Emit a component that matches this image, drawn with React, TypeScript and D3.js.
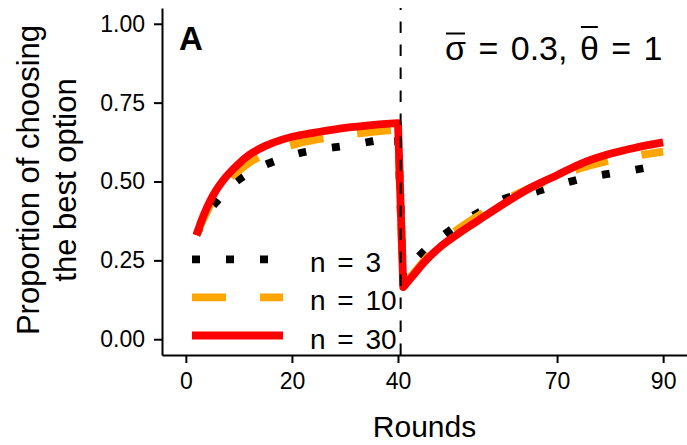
import React, { useEffect, useRef } from 'react';
import * as d3 from 'd3';

const rounds = [2, 3, 4, 5, 6, 7, 8, 10, 12, 15, 18, 21, 25, 30, 35, 40, 41, 43, 45, 48, 51, 55, 60, 65, 70, 75, 80, 85, 90];
// proportion of choosing the best option, per group size
const propN3 = [0.33, 0.365, 0.395, 0.42, 0.44, 0.46, 0.478, 0.506, 0.528, 0.553, 0.572, 0.588, 0.601, 0.613, 0.627, 0.643, 0.19, 0.245, 0.28, 0.322, 0.36, 0.40, 0.445, 0.463, 0.488, 0.51, 0.525, 0.538, 0.555];
const propN10 = [0.33, 0.37, 0.405, 0.44, 0.465, 0.487, 0.505, 0.535, 0.56, 0.588, 0.606, 0.62, 0.634, 0.647, 0.657, 0.665, 0.17, 0.21, 0.25, 0.305, 0.345, 0.39, 0.44, 0.48, 0.515, 0.545, 0.567, 0.582, 0.595];
const propN30 = [0.33, 0.378, 0.418, 0.452, 0.48, 0.503, 0.523, 0.557, 0.585, 0.613, 0.632, 0.645, 0.657, 0.67, 0.679, 0.685, 0.165, 0.205, 0.245, 0.293, 0.33, 0.375, 0.43, 0.48, 0.52, 0.56, 0.588, 0.608, 0.624];
const seriesLabels = ['n = 3', 'n = 10', 'n = 30'];
const xTicks = [0, 20, 40, 70, 90];
const yTicks = [0, 0.25, 0.5, 0.75, 1];
const switchRound = 40.5;

const FONT = 'Liberation Sans, Arial, Helvetica, sans-serif';

export default function App() {
  const ref = useRef<SVGSVGElement>(null);

  useEffect(() => {
    const svg = d3.select(ref.current);
    svg.selectAll('*').remove();

    const left = 162, right = 687, top = 8, bottom = 355;
    const x = d3.scaleLinear().domain([-4.5, 94.5]).range([left, right]);
    const y = d3.scaleLinear().domain([-0.05, 1.05]).range([bottom, top]);

    // axes
    const xAxis = d3.axisBottom(x).tickValues(xTicks).tickSize(8).tickSizeOuter(0).tickPadding(10);
    const yAxis = d3.axisLeft(y).tickValues(yTicks).tickSize(8).tickSizeOuter(0).tickPadding(9)
      .tickFormat(d3.format('.2f'));

    const gx = svg.append('g').attr('transform', 'translate(0,' + bottom + ')').call(xAxis);
    const gy = svg.append('g').attr('transform', 'translate(' + left + ',0)').call(yAxis);
    [gx, gy].forEach(g => {
      g.select('.domain').attr('stroke', '#000').attr('stroke-width', 2);
      g.selectAll('.tick line').attr('stroke', '#000').attr('stroke-width', 2);
      g.selectAll('.tick text')
        .attr('fill', '#000')
        .style('font-family', FONT)
        .style('font-size', '23px');
    });

    // axis titles
    svg.append('text')
      .attr('x', (left + right) / 2)
      .attr('y', 437)
      .attr('text-anchor', 'middle')
      .style('font-family', FONT)
      .style('font-size', '30px')
      .text('Rounds');

    const yTitle = svg.append('text')
      .attr('transform', 'translate(0,180) rotate(-90)')
      .attr('text-anchor', 'middle')
      .style('font-family', FONT)
      .style('font-size', '31px');
    yTitle.append('tspan').attr('x', 0).attr('y', 39).text('Proportion of choosing');
    yTitle.append('tspan').attr('x', 0).attr('y', 75.5).text('the best option');

    // curves
    const series = [
      { label: seriesLabels[0], values: propN3, color: '#000000', dash: '8 26' },
      { label: seriesLabels[1], values: propN10, color: '#FFA500', dash: '34 34' },
      { label: seriesLabels[2], values: propN30, color: '#FF0000', dash: null },
    ];

    const line = d3.line<[number, number]>()
      .x(d => x(d[0]))
      .y(d => y(d[1]))
      .curve(d3.curveMonotoneX);

    // smooth each phase on its own, then join them with a straight drop
    const pathFor = (values: number[]) => {
      const pts = rounds.map((r, i) => [r, values[i]] as [number, number]);
      const before = pts.filter(p => p[0] < switchRound);
      const after = pts.filter(p => p[0] > switchRound);
      return (line(before) || '') + (line(after) || '').replace(/^M/, 'L');
    };

    series.forEach(s => {
      svg.append('path')
        .attr('d', pathFor(s.values))
        .attr('fill', 'none')
        .attr('stroke', s.color)
        .attr('stroke-width', 7.8)
        .attr('stroke-linejoin', 'round')
        .attr('stroke-dasharray', s.dash);
    });

    // round where the environment changes
    svg.append('line')
      .attr('x1', x(switchRound)).attr('x2', x(switchRound))
      .attr('y1', bottom).attr('y2', top)
      .attr('stroke', '#000')
      .attr('stroke-width', 2)
      .attr('stroke-dasharray', '11.5 11.5');

    // legend
    const legend = svg.selectAll('.legend')
      .data(series)
      .enter().append('g')
      .attr('class', 'legend')
      .attr('transform', (d, i) => 'translate(0,' + (259.3 + i * 38.1) + ')');

    legend.append('line')
      .attr('x1', 192).attr('x2', 283)
      .attr('stroke', d => d.color)
      .attr('stroke-width', 7.8)
      .attr('stroke-dasharray', d => d.dash);

    legend.append('text')
      .attr('x', 310)
      .attr('y', 13)
      .style('font-family', FONT)
      .style('font-size', '28px')
      .style('word-spacing', '4px')
      .text(d => d.label);

    // panel tag
    svg.append('text')
      .attr('x', 179)
      .attr('y', 50)
      .style('font-family', FONT)
      .style('font-size', '33px')
      .style('font-weight', 'bold')
      .text('A');

    // parameter annotation with bars over the greek letters
    const ann = svg.append('text')
      .attr('x', 445)
      .attr('y', 59.5)
      .style('font-family', FONT)
      .style('font-size', '34px')
      .style('word-spacing', '3px');
    ann.append('tspan').text('σ');
    ann.append('tspan').text(' = 0.3, ');
    ann.append('tspan').text('θ');
    ann.append('tspan').text(' = 1');

    const node = ann.node() as SVGTextElement;
    const full = 'σ = 0.3, θ = 1';
    const bars = [
      { idx: full.indexOf('σ'), yy: 33.5 },
      { idx: full.indexOf('θ'), yy: 27 },
    ];
    bars.forEach(b => {
      const ext = node.getExtentOfChar(b.idx);
      svg.append('line')
        .attr('x1', ext.x + 1).attr('x2', ext.x + ext.width - 1)
        .attr('y1', b.yy).attr('y2', b.yy)
        .attr('stroke', '#000')
        .attr('stroke-width', 2);
    });
  }, []);

  return (
    <svg ref={ref} width={687} height={445}
      style={{ position: 'absolute', left: 0, top: 0, background: '#fff' }} />
  );
}
